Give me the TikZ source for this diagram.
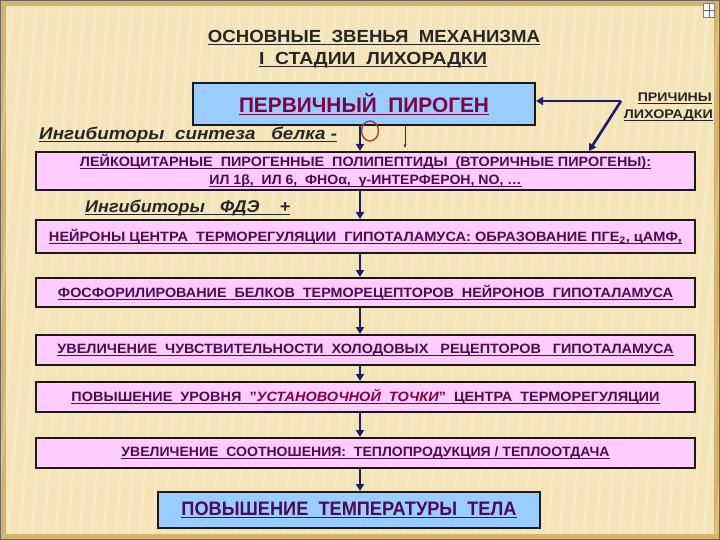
\documentclass[tikz,border=0pt]{standalone}
\usepackage{fontspec}
\usepackage{graphicx}
\usetikzlibrary{arrows.meta,shapes.geometric}
\setmainfont{Liberation Sans}
\definecolor{bgc}{HTML}{F4E4B8}
\definecolor{bgedge}{HTML}{D4B46C}
\definecolor{navy}{HTML}{1C1C6E}
\definecolor{blue1}{HTML}{99CCFF}
\definecolor{pink1}{HTML}{FFCCFF}
\definecolor{plum}{HTML}{4E0A4E}
\definecolor{wine}{HTML}{800040}
\definecolor{ring}{HTML}{A0402D}
\newcommand\ulx[1]{\setbox0\hbox{#1}\rlap{\vrule width\wd0 height -1.5pt depth 2.5pt}\box0}
\newcommand\fitw[2]{\resizebox{#1}{\height}{\ulx{#2}}}
\begin{document}
\begin{tikzpicture}[x=1pt,y=-1pt,
  box/.style={draw=black!90,line width=2pt,minimum width=659pt,inner sep=0pt,font=\bfseries\fontsize{13.5}{18.5}\selectfont,text=plum,align=center},
  bluebox/.style={box,fill=blue1},
  pinkbox/.style={box,fill=pink1},
  arr/.style={draw=navy,line width=2.6pt,-{Triangle[length=7pt,width=8pt]}},
  lbl/.style={inner sep=0pt,text=black!85},
]
\useasboundingbox (0,0) rectangle (720,540);
% background
\fill[bgedge] (0,0) rectangle (720,540);
\fill[bgc] (6,6) rectangle (714,534);
\foreach \i in {0,12,...,760} {\draw[white,opacity=0.18,line width=3pt] (\i,6) -- ++(-40,528);}
\draw[black!60,line width=1pt] (0.5,0.5) rectangle (719.5,539.5);
% corner icon
\node[draw=black!50,fill=white,minimum width=11pt,minimum height=14pt,inner sep=0pt] (icon) at (709,10) {};
\draw[black!60,line width=0.6pt] (icon.north) -- (icon.south) (icon.west) -- (icon.east);
% title
\node[lbl,font=\bfseries\fontsize{17.5}{20}\selectfont,anchor=base] (title1) at (374,43)
  {\fitw{332pt}{ОСНОВНЫЕ\ \ ЗВЕНЬЯ\ \ МЕХАНИЗМА}};
\node[lbl,font=\bfseries\fontsize{17.5}{20}\selectfont,anchor=base] (title2) at (373,65)
  {\fitw{228pt}{I\ \ СТАДИИ\ \ ЛИХОРАДКИ}};
% boxes
\node[bluebox,minimum width=342pt,minimum height=42pt,font=\bfseries\fontsize{21}{22}\selectfont,text=wine] (pp) at (364,104) {\fitw{250pt}{ПЕРВИЧНЫЙ\ \ ПИРОГЕН}};
\node[pinkbox,minimum height=38pt] (b2) at (365.5,171)
  {\fitw{571pt}{ЛЕЙКОЦИТАРНЫЕ\ \ ПИРОГЕННЫЕ\ \ ПОЛИПЕПТИДЫ\ \ (ВТОРИЧНЫЕ ПИРОГЕНЫ):}\\
   \fitw{312pt}{ИЛ 1β,\ \ ИЛ 6,\ \ ФНОα,\ \ γ-ИНТЕРФЕРОН, NO, \dots}};
\node[pinkbox,minimum height=33pt] (b3) at (365.5,236.5)
  {\fitw{633pt}{НЕЙРОНЫ ЦЕНТРА\ \ ТЕРМОРЕГУЛЯЦИИ\ \ ГИПОТАЛАМУСА:\ ОБРАЗОВАНИЕ\ ПГЕ\textsubscript{2},\ цАМФ,}};
\node[pinkbox,minimum height=29pt] (b4) at (365.5,292.5)
  {\fitw{615pt}{ФОСФОРИЛИРОВАНИЕ\ \ БЕЛКОВ\ \ ТЕРМОРЕЦЕПТОРОВ\ \ НЕЙРОНОВ\ \ ГИПОТАЛАМУСА}};
\node[pinkbox,minimum height=30pt] (b5) at (365.5,350)
  {\fitw{616pt}{УВЕЛИЧЕНИЕ\ \ ЧУВСТВИТЕЛЬНОСТИ\ \ ХОЛОДОВЫХ\ \ \ РЕЦЕПТОРОВ\ \ \ ГИПОТАЛАМУСА}};
\node[pinkbox,minimum height=30pt] (b6) at (365.5,397)
  {\fitw{588pt}{ПОВЫШЕНИЕ\ \ УРОВНЯ\ \ "\textcolor{wine}{\itshape УСТАНОВОЧНОЙ\ \ ТОЧКИ}"\ \ ЦЕНТРА\ \ ТЕРМОРЕГУЛЯЦИИ}};
\node[pinkbox,minimum height=30pt] (b7) at (365.5,453)
  {\fitw{488pt}{УВЕЛИЧЕНИЕ\ \ СООТНОШЕНИЯ:\ \ ТЕПЛОПРОДУКЦИЯ / ТЕПЛООТДАЧА}};
\node[bluebox,minimum width=382pt,minimum height=36pt,font=\bfseries\fontsize{19.5}{20}\selectfont] (b8) at (349,510)
  {\fitw{335pt}{ПОВЫШЕНИЕ\ \ ТЕМПЕРАТУРЫ\ \ ТЕЛА}};
% side labels
\node[lbl,font=\bfseries\fontsize{12.5}{14}\selectfont,anchor=base east] (causes1) at (712,102)
  {\fitw{74pt}{ПРИЧИНЫ}};
\node[lbl,font=\bfseries\fontsize{12.5}{14}\selectfont,anchor=base east] (causes2) at (713,119)
  {\fitw{89pt}{ЛИХОРАДКИ}};
\node[lbl,font=\bfseries\itshape\fontsize{17}{19}\selectfont,anchor=base west] (inh1) at (39,140)
  {\fitw{298pt}{Ингибиторы\ \ синтеза\ \ \ белка\ -}};
\node[lbl,font=\bfseries\itshape\fontsize{17}{19}\selectfont,anchor=base west] (inh2) at (85,212)
  {\fitw{205pt}{Ингибиторы\ \ \ ФДЭ\ \ \ \ +}};
% connectors
\coordinate (ax) at (360,0);
\coordinate (cc) at (621,101);
\coordinate (tg) at (589,0);
\draw[arr] (pp.south -| ax) -- (b2.north -| ax);
\draw[arr] (b2.south -| ax) -- (b3.north -| ax);
\draw[arr] (b3.south -| ax) -- (b4.north -| ax);
\draw[arr] (b4.south -| ax) -- (b5.north -| ax);
\draw[arr] (b5.south -| ax) -- (b6.north -| ax);
\draw[arr] (b6.south -| ax) -- (b7.north -| ax);
\draw[arr] (b7.south -| ax) -- (b8.north -| ax);
\draw[arr] (cc) -- (pp.east |- cc);
\draw[arr] (cc) -- (b2.north -| tg);
% ring and thin line
\node[draw=ring,line width=1.4pt,ellipse,minimum width=17pt,minimum height=20pt,inner sep=0pt] (rg) at (370,131) {};
\coordinate (tl) at (405,0);
\draw[black!80,line width=1pt,-{Stealth[length=4pt,width=3pt]}] (pp.south -| tl) -- ++(0,22);
\end{tikzpicture}
\end{document}
